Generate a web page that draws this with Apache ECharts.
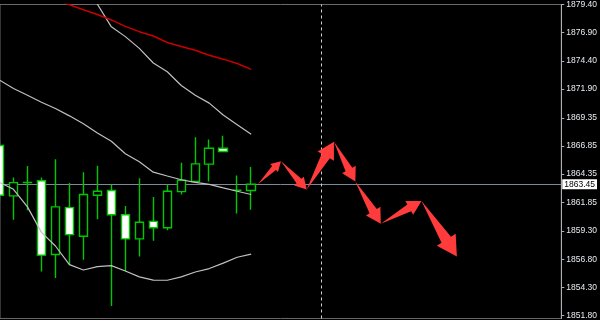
<!DOCTYPE html>
<html><head><meta charset="utf-8">
<script src="https://cdn.jsdelivr.net/npm/echarts@6/dist/echarts.min.js"></script>
<style>html,body{margin:0;padding:0;background:#000}#c{width:600px;height:320px}</style>
</head><body><div id="c"></div>
<script>
// Candle data (index 0..18)
const opens  = [1866.89,1862.42,1863.60,1863.76,1857.21,1861.38,1858.83,1862.48,1862.89,1860.75,1858.60,1860.16,1859.59,1862.80,1863.70,1865.24,1866.65,1862.92,1862.89];
const closes = [1862.48,1863.59,1863.62,1857.16,1861.44,1858.98,1862.54,1862.83,1860.75,1858.60,1860.08,1859.59,1862.83,1863.81,1865.26,1866.65,1866.36,1862.92,1863.45];
const lows   = [1861.90,1860.29,1861.15,1855.71,1855.13,1856.29,1856.75,1860.34,1852.64,1855.73,1857.04,1858.43,1859.36,1862.54,1863.55,1863.70,1866.36,1860.86,1861.18];
const highs  = [1867.30,1864.05,1865.06,1864.05,1865.67,1863.55,1864.51,1865.09,1863.41,1861.53,1863.99,1862.31,1863.41,1865.35,1867.63,1867.41,1867.75,1864.22,1864.98];

// Bollinger bands
const bbUpperStart = 6;
const bbUpper  = [1881.94,1879.42,1877.42,1876.55,1875.51,1874.21,1873.43,1872.21,1871.34,1870.65,1869.60,1868.74,1867.89];
const bbMiddle = [1872.69,1871.95,1871.34,1870.73,1870.17,1869.52,1868.82,1868.00,1867.26,1866.16,1865.44,1864.52,1864.18,1863.85,1863.61,1863.44,1863.13,1862.83,1862.54];
const bbLower  = [1863.61,1863.00,1861.44,1859.18,1857.97,1856.32,1855.84,1856.14,1856.23,1855.75,1855.23,1854.95,1854.93,1855.23,1855.66,1855.97,1856.45,1856.97,1857.25];

// Red moving average
const maStart = 4;
const maRed = [1879.85,1879.38,1878.94,1878.51,1878.03,1877.46,1876.99,1876.60,1876.03,1875.68,1875.34,1874.90,1874.55,1874.16,1873.64];

// Forecast arrow path (bar index, price)
const forecastX = [18.48,20.13,21.97,23.92,25.45,27.27,30.18,32.71];
const forecastY = [1863.46,1865.50,1862.98,1867.23,1863.70,1859.94,1861.96,1857.04];

// Axis
const tickValues = [1851.80,1854.30,1856.80,1859.30,1861.85,1864.35,1866.85,1869.35,1871.90,1874.40,1876.90,1879.40];
const lastPrice = 1863.45;
const separatorIndex = 23;
const X_MIN = 0.0355, X_MAX = 40.177;
const Y_MIN = 1851.54, Y_MAX = 1879.40;

const candleData = opens.map((o,i)=>[i,o,closes[i],lows[i],highs[i]]);
const upperData = bbUpper.map((v,i)=>[i+bbUpperStart,v]);
const middleData = bbMiddle.map((v,i)=>[i,v]);
const lowerData = bbLower.map((v,i)=>[i,v]);
const maData = maRed.map((v,i)=>[i+maStart,v]);
const segs = [];
for (let i=0;i<forecastX.length-1;i++) segs.push([forecastX[i],forecastY[i],forecastX[i+1],forecastY[i+1]]);

const chart = echarts.init(document.getElementById('c'), null, {renderer:'canvas'});
const lineCommon = {type:'line', showSymbol:false, symbol:'none', silent:true, z:4};
chart.setOption({
  backgroundColor:'#000',
  animation:false,
  grid:{left:0,right:34,top:0,bottom:0,show:true,borderColor:'#6a6a6a',borderWidth:1},
  xAxis:{type:'value',min:X_MIN,max:X_MAX,show:false},
  yAxis:{type:'value',position:'right',min:Y_MIN,max:Y_MAX,scale:true,
    axisLine:{show:true,lineStyle:{color:'#b0b0b0',width:1}},
    axisTick:{show:true,length:3,customValues:tickValues,lineStyle:{color:'#b0b0b0'}},
    axisLabel:{customValues:tickValues,formatter:v=>v.toFixed(2),color:'#e6ecf2',fontSize:8.5,fontFamily:'Liberation Sans',margin:5,
      verticalAlignMaxLabel:'middle',verticalAlignMinLabel:'middle'},
    splitLine:{show:false}},
  series:[
    {type:'candlestick', z:3, silent:true, barWidth:9,
     data:candleData, encode:{x:0,y:[1,2,3,4]},
     itemStyle:{color:'#000',color0:'#fff',borderColor:'#00c800',borderColor0:'#00c800',borderColorDoji:'#00c800',borderWidth:1.4},
     markLine:{silent:true,symbol:'none',z:1,animation:false,
       data:[
         {yAxis:lastPrice,lineStyle:{color:'#7a8a9a',type:'solid',width:1},
          label:{show:true,position:'end',formatter:lastPrice.toFixed(2),color:'#000',backgroundColor:'#fff',fontSize:8.5,fontFamily:'Liberation Sans',padding:[1,2,0,2],distance:1}},
         {xAxis:separatorIndex,lineStyle:{color:'#d0d0d0',type:[3,3],width:1},label:{show:false}}
       ]}
    },
    Object.assign({},lineCommon,{data:upperData,lineStyle:{color:'#c0c0c0',width:1.2}}),
    Object.assign({},lineCommon,{data:middleData,lineStyle:{color:'#c0c0c0',width:1.2}}),
    Object.assign({},lineCommon,{data:lowerData,lineStyle:{color:'#c0c0c0',width:1.2}}),
    Object.assign({},lineCommon,{data:maData,lineStyle:{color:'#c80000',width:1.5}}),
    {type:'custom', z:6, silent:true, data:segs, encode:{x:[0,2],y:[1,3]},
     renderItem:(params,api)=>{
       const a=api.coord([api.value(0),api.value(1)]);
       const b=api.coord([api.value(2),api.value(3)]);
       const dx=b[0]-a[0], dy=b[1]-a[1], L=Math.hypot(dx,dy);
       const ux=dx/L, uy=dy/L, nx=-uy, ny=ux;
       const hl=0.3*L, hw=0.17*L, sw=0.085*L;
       const bx=b[0]-ux*hl, by=b[1]-uy*hl;
       return {type:'polygon',shape:{points:[a,[bx+nx*sw,by+ny*sw],[bx+nx*hw,by+ny*hw],b,[bx-nx*hw,by-ny*hw],[bx-nx*sw,by-ny*sw]]},style:{fill:'#ff3b3b'}};
     }}
  ]
});
</script></body></html>
